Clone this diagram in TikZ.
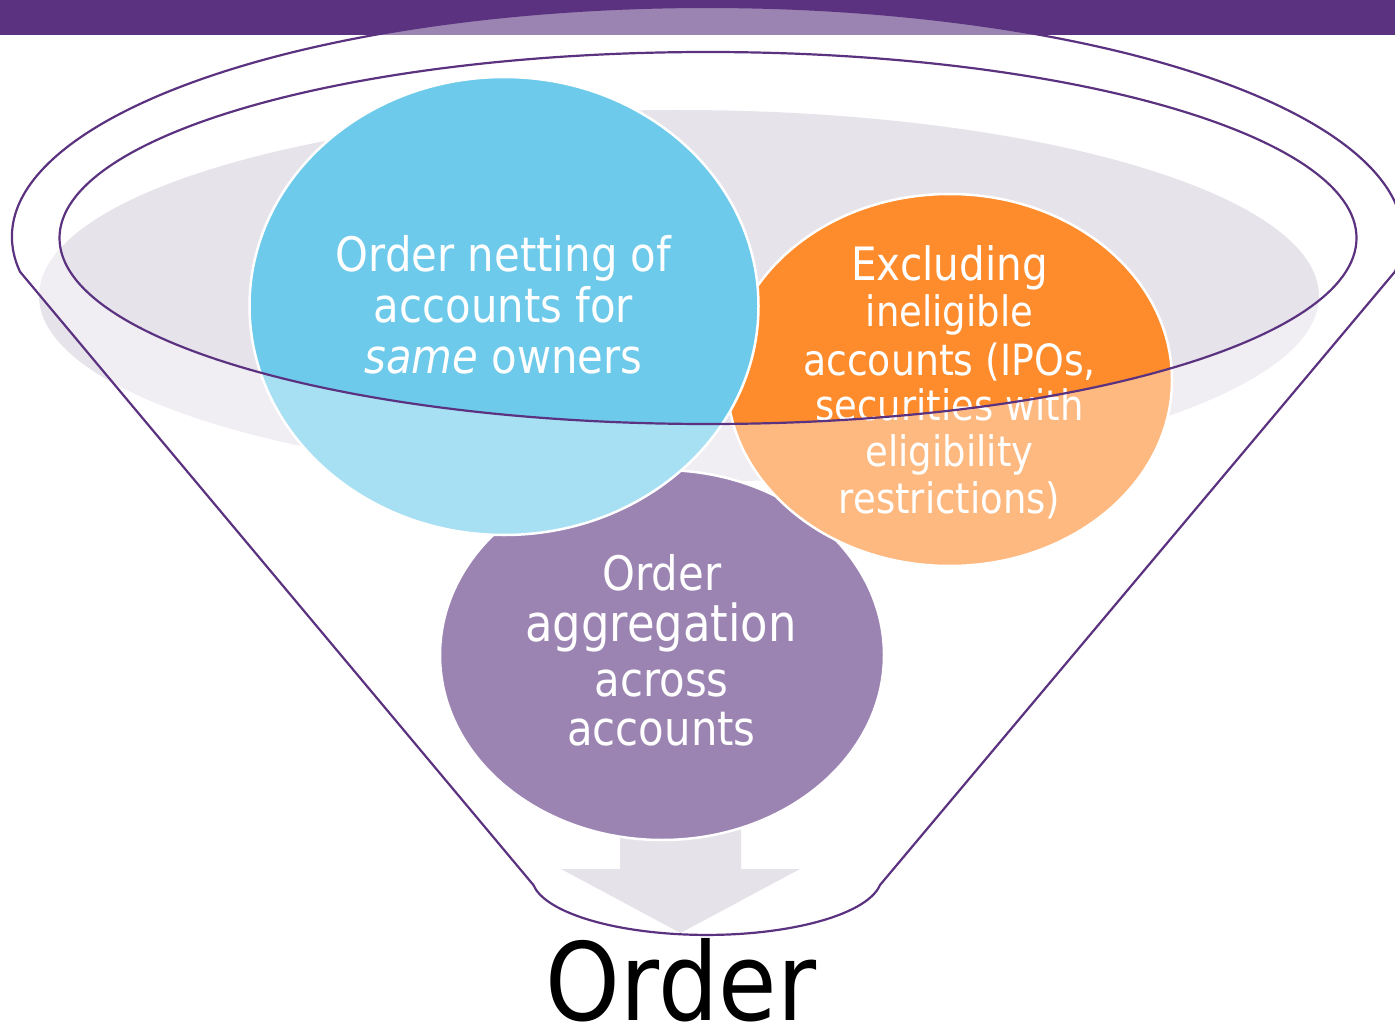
\documentclass[tikz,border=0pt]{standalone}
\usepackage{fontspec}
\setmainfont{DejaVu Sans}[FakeStretch=0.88]
\usetikzlibrary{shapes.geometric}
\definecolor{barpurple}{HTML}{5B3280}
\definecolor{greyfill}{HTML}{E6E3EB}
\definecolor{arrowgrey}{HTML}{D4D0DC}
\definecolor{bluefill}{HTML}{6DCAEB}
\definecolor{orangefill}{HTML}{FE8B2C}
\newcommand\txtsz[1]{\fontsize{#1}{#1}\selectfont}
\begin{document}
\begin{tikzpicture}[x=1pt,y=-1pt,
  bubble/.style={ellipse, draw=white, line width=2.5pt, inner sep=0pt},
  linetxt/.style={anchor=base, text=white, inner sep=0pt},
  funnelline/.style={draw=barpurple, line width=2.2pt}]
\useasboundingbox (0,0) rectangle (1395,1027);
\clip (0,0) rectangle (1395,1027);
% top bar
\fill[barpurple] (0,0) rectangle (1395,35);
% grey disc
\node[ellipse, fill=greyfill, minimum width=1280pt, minimum height=372pt, inner sep=0pt] (disc) at (679,296) {};
% arrow
\fill[arrowgrey] (620,825) -- (741,825) -- (741,869) -- (800,869) -- (680.5,933) -- (561,869) -- (620,869) -- cycle;
% bubbles
\node[bubble, fill=barpurple, minimum width=444pt, minimum height=370pt] (agg) at (662,655) {};
\node[bubble, fill=orangefill, minimum width=445pt, minimum height=372pt] (excl) at (949.5,380) {};
\node[bubble, fill=bluefill, minimum width=509pt, minimum height=458pt] (net) at (504,306) {};
% funnel translucent body
\fill[white, fill opacity=0.4, even odd rule]
  (20,271.7) arc[start angle=171.3, end angle=368.7, x radius=695.5, y radius=230]
  -- (880,885) arc[start angle=8, end angle=172, x radius=175, y radius=58] -- cycle
  (708,238) ellipse [x radius=648.5, y radius=186];
% texts
\node[linetxt] (n1) at (503.5,271.5) {\txtsz{47.5}Order netting of};
\node[linetxt] (n2) at (503.5,322) {\txtsz{47.5}accounts for};
\node[linetxt] (n3) at (503.5,373) {\txtsz{47.5}\textit{same} owners};
\node[linetxt] (e1) at (949.5,280) {\txtsz{46}Excluding};
\node[linetxt] (e2) at (949.5,326.7) {\txtsz{42}ineligible};
\node[linetxt] (e3) at (949.5,375) {\txtsz{43}accounts (IPOs,};
\node[linetxt] (e4) at (949.5,420) {\txtsz{42}securities with};
\node[linetxt] (e5) at (949.5,466.7) {\txtsz{42}eligibility};
\node[linetxt] (e6) at (949.5,513) {\txtsz{42}restrictions)};
\node[linetxt] (a1) at (662,590) {\txtsz{47.5}Order};
\node[linetxt] (a2) at (661,641.7) {\txtsz{51}aggregation};
\node[linetxt] (a3) at (661.5,696.7) {\txtsz{47.5}across};
\node[linetxt] (a4) at (661.5,745) {\txtsz{47.5}accounts};
\node[anchor=base, inner sep=0pt, text=black] (result) at (681,1020) {\txtsz{108}Order};
% funnel outlines
\draw[funnelline]
  (20,271.7) arc[start angle=171.3, end angle=368.7, x radius=695.5, y radius=230]
  -- (880,885) arc[start angle=8, end angle=172, x radius=175, y radius=58] -- cycle;
\draw[funnelline] (708,238) ellipse [x radius=648.5, y radius=186];
\end{tikzpicture}
\end{document}
